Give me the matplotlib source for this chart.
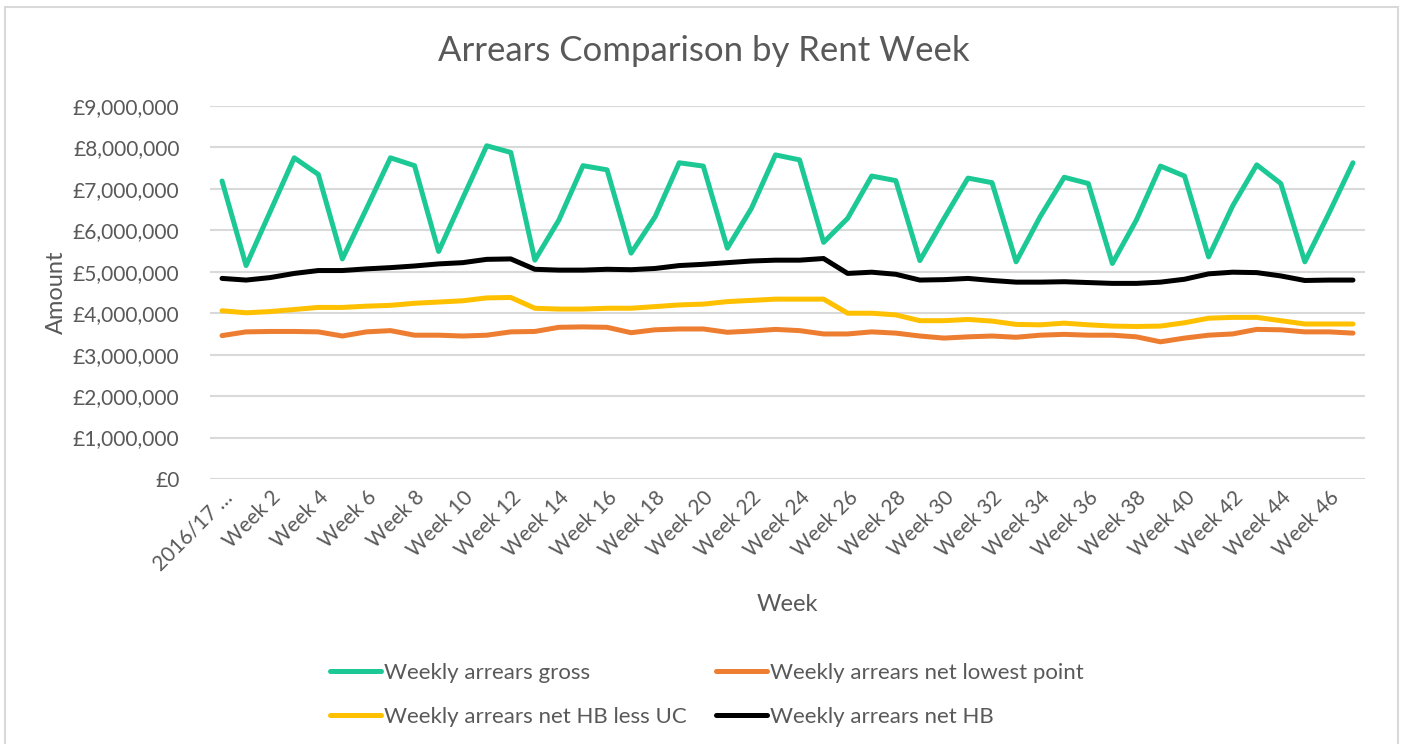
import matplotlib
matplotlib.use("Agg")
import matplotlib.pyplot as plt
from matplotlib.ticker import FuncFormatter, MultipleLocator
from matplotlib.patches import Rectangle

plt.rcParams['font.family'] = ['Lato', 'DejaVu Sans']

# data
weeks = ["2016/17 …"] + ["Week %d" % i for i in range(1, 48)]

gross = [7.19, 5.15, 6.45, 7.75, 7.35, 5.31, 6.52, 7.75, 7.56, 5.49, 6.77, 8.04,
         7.88, 5.28, 6.25, 7.56, 7.46, 5.45, 6.33, 7.63, 7.55, 5.57, 6.53, 7.82,
         7.70, 5.71, 6.29, 7.31, 7.20, 5.27, 6.28, 7.26, 7.15, 5.24, 6.33, 7.28,
         7.13, 5.20, 6.25, 7.55, 7.31, 5.36, 6.59, 7.58, 7.13, 5.24, 6.41, 7.63]

net_lowest = [3.46, 3.55, 3.56, 3.56, 3.55, 3.45, 3.55, 3.58, 3.47, 3.47, 3.45, 3.47,
              3.55, 3.56, 3.66, 3.67, 3.66, 3.53, 3.60, 3.62, 3.62, 3.54, 3.57, 3.61,
              3.58, 3.50, 3.50, 3.55, 3.52, 3.45, 3.40, 3.43, 3.45, 3.42, 3.47, 3.49,
              3.47, 3.47, 3.43, 3.31, 3.40, 3.47, 3.50, 3.61, 3.60, 3.55, 3.55, 3.52]

net_hb_less_uc = [4.06, 4.01, 4.04, 4.09, 4.14, 4.14, 4.17, 4.19, 4.24, 4.27, 4.30, 4.37,
                  4.38, 4.12, 4.10, 4.10, 4.12, 4.12, 4.16, 4.20, 4.22, 4.28, 4.31, 4.34,
                  4.34, 4.34, 4.00, 4.00, 3.96, 3.82, 3.82, 3.85, 3.81, 3.73, 3.72, 3.76,
                  3.72, 3.69, 3.68, 3.69, 3.77, 3.88, 3.90, 3.90, 3.82, 3.74, 3.74, 3.74]

net_hb = [4.84, 4.80, 4.86, 4.96, 5.03, 5.03, 5.07, 5.10, 5.14, 5.19, 5.22, 5.30,
          5.31, 5.06, 5.04, 5.04, 5.06, 5.05, 5.08, 5.15, 5.18, 5.22, 5.26, 5.28,
          5.28, 5.32, 4.96, 4.99, 4.94, 4.80, 4.81, 4.84, 4.79, 4.75, 4.75, 4.76,
          4.74, 4.72, 4.72, 4.75, 4.82, 4.95, 4.99, 4.98, 4.90, 4.79, 4.80, 4.80]

# values above are in £ millions
gross = [v * 1e6 for v in gross]
net_lowest = [v * 1e6 for v in net_lowest]
net_hb_less_uc = [v * 1e6 for v in net_hb_less_uc]
net_hb = [v * 1e6 for v in net_hb]

text_col = '#595959'

fig = plt.figure(figsize=(14.07, 7.44), dpi=100)
ax = fig.add_axes([210 / 1407, 1 - 479 / 744, 1155 / 1407, 373 / 744])

# chart border
fig.patches.append(Rectangle((5 / 1407, -0.05), 1393 / 1407, 1.05 - 7 / 744,
                             transform=fig.transFigure, fill=False,
                             edgecolor='#D9D9D9', linewidth=1.5))

x = range(len(weeks))
lw = 3.6
l1, = ax.plot(x, gross, color='#1CC995', lw=lw, label='Weekly arrears gross', solid_capstyle='round')
l2, = ax.plot(x, net_lowest, color='#ED7D31', lw=lw, label='Weekly arrears net lowest point', solid_capstyle='round')
l3, = ax.plot(x, net_hb_less_uc, color='#FFC000', lw=lw, label='Weekly arrears net HB less UC', solid_capstyle='round')
l4, = ax.plot(x, net_hb, color='#000000', lw=lw, label='Weekly arrears net HB', solid_capstyle='round')

ax.set_xlim(-0.5, len(weeks) - 0.5)
ax.set_ylim(0, 9e6)
ax.yaxis.set_major_locator(MultipleLocator(1e6))
ax.yaxis.set_major_formatter(FuncFormatter(lambda v, p: '£{:,.0f}'.format(v)))
ax.grid(axis='y', color='#D9D9D9', linewidth=1.5)
ax.set_axisbelow(True)
for s in ax.spines.values():
    s.set_visible(False)

ax.set_xticks(list(x)[::2])
ax.set_xticklabels(weeks[::2], rotation=45, ha='right', rotation_mode='anchor')
ax.tick_params(axis='both', length=0, labelsize=15, labelcolor=text_col)
ax.tick_params(axis='y', pad=22)
ax.tick_params(axis='x', pad=6)

fig.text(0.5, 1 - 51 / 744, 'Arrears Comparison by Rent Week', fontsize=25,
         color=text_col, ha='center', va='center')
ax.set_ylabel('Amount', fontsize=17, color=text_col, labelpad=4)
ax.set_xlabel('Week', fontsize=17, color=text_col, labelpad=14)

# row-wise order like the original legend
handles = [l1, l3, l2, l4]
fig.legend(handles, [h.get_label() for h in handles], loc='center',
           bbox_to_anchor=(707 / 1407, 1 - 695 / 744), ncol=2,
           frameon=False, fontsize=16, labelcolor=text_col, handlelength=2.3,
           handletextpad=0.15, columnspacing=1.3, labelspacing=1.1)

fig.savefig('out.png', dpi=100)
